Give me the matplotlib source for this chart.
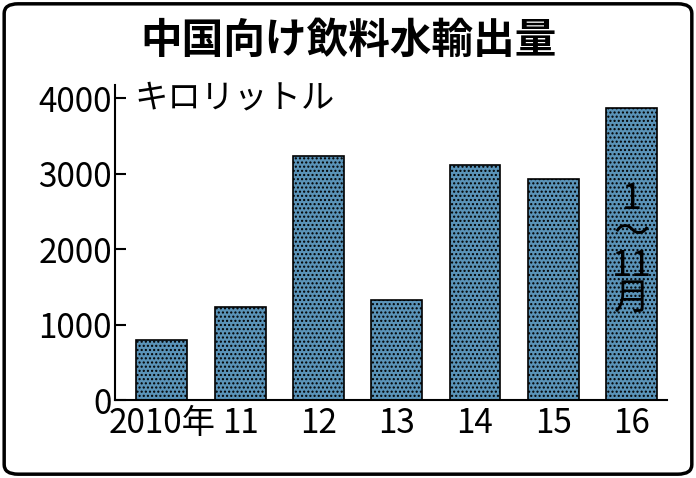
import matplotlib.pyplot as plt
from matplotlib.patches import FancyBboxPatch

plt.rcParams['font.family'] = ['Noto Sans CJK JP', 'DejaVu Sans']
plt.rcParams['hatch.color'] = '#2c5a78'

years = ['2010年', '11', '12', '13', '14', '15', '16']
values = [800, 1230, 3240, 1320, 3110, 2930, 3870]
yticks = [0, 1000, 2000, 3000, 4000]

fig = plt.figure(figsize=(6.96, 4.78), dpi=100)
fig.patches.append(FancyBboxPatch((0.006, 0.008), 0.988, 0.984, boxstyle='round,pad=0,rounding_size=0.02',
                                  transform=fig.transFigure, fill=False, lw=2.5, ec='black'))
ax = fig.add_axes([0.165, 0.163, 0.793, 0.66])

x = range(len(values))
ax.bar(x, values, width=0.65, color='#5a93b8', edgecolor='black', lw=1.2, hatch='....')
ax.set_ylim(0, 4180)
ax.set_xlim(-0.6, 6.45)
ax.set_yticks(yticks)
ax.set_yticklabels([str(v) for v in yticks], fontsize=24)
ax.set_xticks(list(x))
ax.set_xticklabels(years, fontsize=24)
ax.tick_params(axis='y', direction='in', length=8, width=1.5, pad=2)
ax.tick_params(axis='x', length=0, pad=4)
ax.spines['top'].set_visible(False)
ax.spines['right'].set_visible(False)
ax.spines['left'].set_linewidth(1.5)
ax.spines['bottom'].set_linewidth(1.5)

ax.text(-0.35, 4000, 'キロリットル', fontsize=24, va='center')
ax.text(6, 2000, '1\n～\n11\n月', fontsize=26, ha='center', va='center', linespacing=0.9)
fig.text(0.5, 0.915, '中国向け飲料水輸出量', fontsize=30, fontweight='bold', ha='center', va='center')

fig.savefig('out.png', dpi=100)
